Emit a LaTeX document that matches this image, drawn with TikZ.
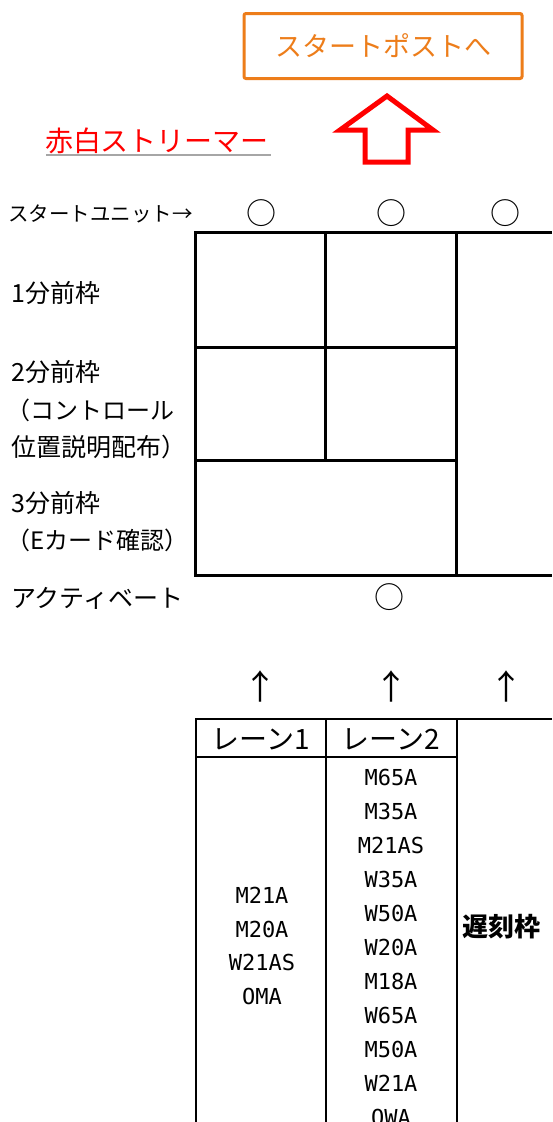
\documentclass[tikz,border=0pt]{standalone}
\usepackage{fontspec}
\newfontfamily\jp{Noto Sans CJK JP}
\newfontfamily\code{DejaVu Sans Mono}
\definecolor{orgc}{HTML}{ED7D1A}
\definecolor{grayline}{HTML}{A6A6A6}
\tikzset{
  lbl/.style={inner sep=0pt, font=\jp\fontsize{25}{25}\selectfont, anchor=west},
  circ/.style={inner sep=0pt, font=\jp\fontsize{30}{30}\selectfont},
  uparr/.style={inner sep=0pt, font=\jp\fontsize{34}{34}\selectfont},
  grid/.style={line width=3pt},
  tbl/.style={line width=2pt},
  cls/.style={inner sep=0pt, font=\code\fontsize{22}{22}\selectfont},
  hdr/.style={inner sep=0pt, font=\jp\fontsize{28}{28}\selectfont},
}
\begin{document}
\begin{tikzpicture}[x=1pt,y=-1pt]
\useasboundingbox[fill=white] (0,0) rectangle (552,1122);
% top box
\node[draw=orgc, line width=3pt, rounded corners=2pt, minimum width=278pt, minimum height=65pt, inner sep=0pt,
  text=orgc, font=\jp\fontsize{27}{27}\selectfont] (post) at (383,46) {スタートポストへ};
% hollow red arrow
\draw[red, line width=5pt, line join=miter] (387,96) -- (433,130) -- (408,130) -- (408,162) -- (365,162) -- (365,130) -- (340,130) -- cycle;
% streamer label
\node[inner sep=0pt, text=red, font=\jp\fontsize{28}{28}\selectfont] (streamer) at (157,141) {赤白ストリーマー};
\draw[grayline, line width=1.5pt] (46,155) -- (271,155);
% start unit
\node[lbl, font=\jp\fontsize{20.5}{20.5}\selectfont] (unit) at (8,214) {スタートユニット→};
\node[circ] (c1) at (261,213) {○};
\node[circ] (c2) at (391,213) {○};
\node[circ] (c3) at (505,213) {○};
% grid
\draw[grid] (552,232) -- (195,232) -- (195,575) -- (552,575);
\draw[grid] (325,232) -- (325,460);
\draw[grid] (456,232) -- (456,575);
\draw[grid] (195,347) -- (456,347);
\draw[grid] (195,460) -- (456,460);
% left labels
\node[lbl] (l1) at (11,293) {1分前枠};
\node[lbl] (l2a) at (11,372) {2分前枠};
\node[lbl, font=\jp\fontsize{24}{24}\selectfont] (l2b) at (6,410) {（コントロール};
\node[lbl] (l2c) at (11,447) {位置説明配布）};
\node[lbl] (l3a) at (11,503) {3分前枠};
\node[lbl, font=\jp\fontsize{24}{24}\selectfont] (l3b) at (6,540) {（Eカード確認）};
\node[lbl] (act) at (11,598) {アクティベート};
\node[circ] (c4) at (389,597) {○};
% arrows
\node[uparr] (a1) at (260,686) {↑};
\node[uparr] (a2) at (391,686) {↑};
\node[uparr] (a3) at (506,686) {↑};
% table
\draw[tbl] (552,719) -- (196,719) -- (196,1123);
\draw[tbl] (326,719) -- (326,1123);
\draw[tbl] (457,719) -- (457,1123);
\draw[tbl] (196,757) -- (457,757);
\node[hdr] (h1) at (261,739) {レーン1};
\node[hdr] (h2) at (391,739) {レーン2};
\node[inner sep=0pt, font=\jp\bfseries\fontsize{26}{26}\selectfont, anchor=west] (late) at (462,927) {遅刻枠};
% lane 1
\node[cls] (p1) at (262,895) {M21A};
\node[cls] (p2) at (262,929) {M20A};
\node[cls] (p3) at (262,962) {W21AS};
\node[cls] (p4) at (262,996) {OMA};
% lane 2
\node[cls] (q1) at (391,777) {M65A};
\node[cls] (q2) at (391,811) {M35A};
\node[cls] (q3) at (391,845) {M21AS};
\node[cls] (q4) at (391,879) {W35A};
\node[cls] (q5) at (391,913) {W50A};
\node[cls] (q6) at (391,947) {W20A};
\node[cls] (q7) at (391,981) {M18A};
\node[cls] (q8) at (391,1015) {W65A};
\node[cls] (q9) at (391,1049) {M50A};
\node[cls] (q10) at (391,1083) {W21A};
\node[cls] (q11) at (391,1117) {OWA};
\end{tikzpicture}
\end{document}
